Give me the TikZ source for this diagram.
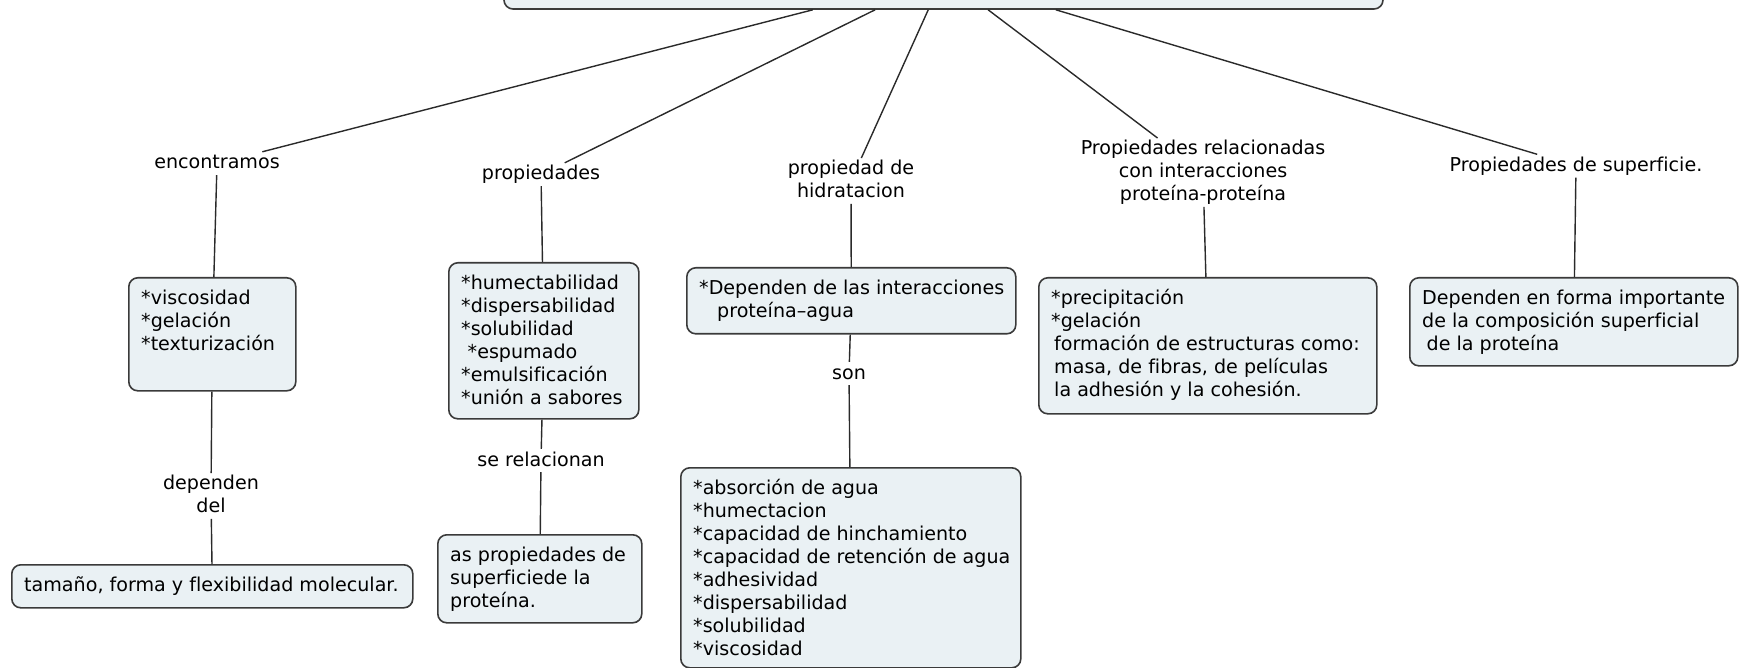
\documentclass[tikz,border=0pt]{standalone}
\usepackage{fontspec}
\setmainfont{DejaVu Sans}[Ligatures=NoCommon]
\definecolor{boxfill}{HTML}{EAF1F4}
\definecolor{boxline}{HTML}{3A3A3A}
\definecolor{linkcol}{HTML}{2A2A2A}
\newcommand\lblstrut{\rule[-4pt]{0pt}{19pt}}
% line break that does not swallow a following asterisk
\newcommand\brk{\\\relax}
\begin{document}
\begin{tikzpicture}[x=1pt,y=-1pt,
  every node/.style={font=\fontsize{19.1}{23}\selectfont},
  box/.style={draw=boxline, line width=1.6pt, rounded corners=9pt, fill=boxfill,
    inner sep=0pt, anchor=north west},
  txt/.style={anchor=base west, inner sep=0pt},
  lbl/.style={align=center, inner sep=2pt,
    execute at begin node=\lblstrut, execute at end node=\lblstrut},
  link/.style={draw=linkcol, line width=1.4pt}]
\useasboundingbox (0,0) rectangle (1743,668);

% root concept (only its lower edge lies inside the page)
\node[box, anchor=center, minimum width=879pt, minimum height=66pt] (top) at (943.5,-24) {};

% concept boxes
\node[box, minimum width=167pt, minimum height=113pt] (bvis) at (128,277) {};
\node[txt] (tvis) at (141,304.5) {\parbox[t]{160pt}{*viscosidad\brk*gelación\brk*texturización}};

\node[box, minimum width=190pt, minimum height=156pt] (bhum) at (448,262) {};
\node[txt] (thum) at (461,290) {\parbox[t]{180pt}{*humectabilidad\brk*dispersabilidad\brk*solubilidad\brk\hspace*{6.5pt}*espumado\brk*emulsificación\brk*unión a sabores}};

\node[box, minimum width=329pt, minimum height=66pt] (binter) at (686,267) {};
\node[txt] (tinter) at (699,294.5) {\parbox[t]{320pt}{*Dependen de las interacciones\brk\hspace*{18pt}proteína–agua}};

\node[box, minimum width=338pt, minimum height=136pt] (bprec) at (1038,277) {};
\node[txt] (tprec) at (1051,304.5) {\parbox[t]{330pt}{*precipitación\brk*gelación\brk\hspace*{3pt}formación de estructuras como:\brk\hspace*{3pt}masa, de fibras, de películas\brk\hspace*{3pt}la adhesión y la cohesión.}};

\node[box, minimum width=328pt, minimum height=88pt] (bsup) at (1409,277) {};
\node[txt] (tsup) at (1422,304.5) {\parbox[t]{320pt}{Dependen en forma importante\brk de la composición superficial\brk\hspace*{4.5pt}de la proteína}};

\node[box, minimum width=401pt, minimum height=43pt] (btam) at (11,564) {};
\node[txt] (ttam) at (24,591) {tamaño, forma y flexibilidad molecular.};

\node[box, minimum width=204pt, minimum height=88pt] (bas) at (437,534) {};
\node[txt] (tas) at (450,561) {\parbox[t]{200pt}{as propiedades de\brk superficiede la\brk proteína.}};

\node[box, minimum width=340pt, minimum height=200pt] (babs) at (680,467) {};
\node[txt] (tabs) at (693,494.5) {\parbox[t]{330pt}{*absorción de agua\brk*humectacion\brk*capacidad de hinchamiento\brk*capacidad de retención de agua\brk*adhesividad\brk*dispersabilidad\brk*solubilidad\brk*viscosidad}};

% linking phrases
\node[lbl] (lenc) at (217,163.5) {encontramos};
\node[lbl] (lprop) at (541,174.5) {propiedades};
\node[lbl] (lhid) at (851,181) {propiedad de\\hidratacion};
\node[lbl] (lrel) at (1203,172.5) {Propiedades relacionadas\\con interacciones\\proteína-proteína};
\node[lbl] (lsup) at (1576,166) {Propiedades de superficie.};
\node[lbl] (ldep) at (211,496) {dependen\\del};
\node[lbl] (lrelac) at (541,460.5) {se relacionan};
\node[lbl] (lson) at (849,373.5) {son};

% connectors
\draw[link] (top) -- (lenc);
\draw[link] (top) -- (lprop);
\draw[link] (top) -- (lhid);
\draw[link] (top) -- (lrel);
\draw[link] (top) -- (lsup);
\draw[link] (lenc) -- (bvis);
\draw[link] (lprop) -- (bhum);
\draw[link] (lhid) -- (binter);
\draw[link] (lrel) -- (bprec);
\draw[link] (lsup) -- (bsup);
\draw[link] (bvis) -- (ldep);
\draw[link] (ldep) -- (btam);
\draw[link] (bhum) -- (lrelac);
\draw[link] (lrelac) -- (bas);
\draw[link] (binter) -- (lson);
\draw[link] (lson) -- (babs);
\end{tikzpicture}
\end{document}
